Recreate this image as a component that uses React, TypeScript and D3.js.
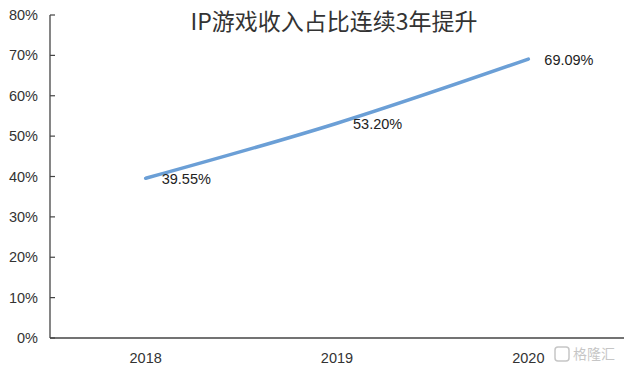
import React from "react";
import * as d3 from "d3";

const categories = ["2018", "2019", "2020"];
const values = [39.55, 53.2, 69.09];
const labels = ["39.55%", "53.20%", "69.09%"];
const yTicks = [0, 10, 20, 30, 40, 50, 60, 70, 80];
const title = "IP游戏收入占比连续3年提升";

export default function App() {
  const W = 624, H = 374;
  const x = d3.scaleBand<string>().domain(categories).range([50, 624]);
  const y = d3.scaleLinear().domain([0, 80]).range([338, 15]);
  const line = d3
    .line<number>()
    .x((_, i) => (x(categories[i]) as number) + x.bandwidth() / 2)
    .y((d) => y(d))
    .curve(d3.curveMonotoneX);
  const font = "'Liberation Sans', sans-serif";
  return (
    <svg width={W} height={H} style={{ position: "absolute", left: 0, top: 0, background: "#fff" }}>
      <text x={334} y={30} textAnchor="middle" fontSize={23} fill="#333" fontFamily="'Noto Sans CJK SC', sans-serif">
        {title}
      </text>
      {yTicks.map((t) => (
        <g key={t}>
          <line x1={50} x2={55} y1={y(t)} y2={y(t)} stroke="#444" strokeWidth={1.2} />
          <text x={38} y={y(t)} dy="0.35em" textAnchor="end" fontSize={14.5} fill="#333" fontFamily={font}>
            {t}%
          </text>
        </g>
      ))}
      <line x1={50} x2={50} y1={y(80)} y2={y(0)} stroke="#444" strokeWidth={1.3} />
      <line x1={50} x2={624} y1={y(0)} y2={y(0)} stroke="#444" strokeWidth={1.3} />
      {categories.map((c) => (
        <text key={c} x={(x(c) as number) + x.bandwidth() / 2} y={363} textAnchor="middle" fontSize={14.5} fill="#333" fontFamily={font}>
          {c}
        </text>
      ))}
      <path d={line(values) || ""} fill="none" stroke="#6b9fd6" strokeWidth={3.5} strokeLinecap="round" />
      {values.map((v, i) => (
        <text key={i} x={(x(categories[i]) as number) + x.bandwidth() / 2 + 16} y={y(v) + 1} dy="0.35em" fontSize={14.5} fill="#222" fontFamily={font}>
          {labels[i]}
        </text>
      ))}
      <g opacity={0.55}>
        <rect x={555} y={347} width={14} height={14} rx={3} fill="none" stroke="#999" strokeWidth={1.5} />
        <text x={573} y={359} fontSize={14} fill="#999" fontFamily="'Noto Sans CJK SC', sans-serif">格隆汇</text>
      </g>
    </svg>
  );
}
